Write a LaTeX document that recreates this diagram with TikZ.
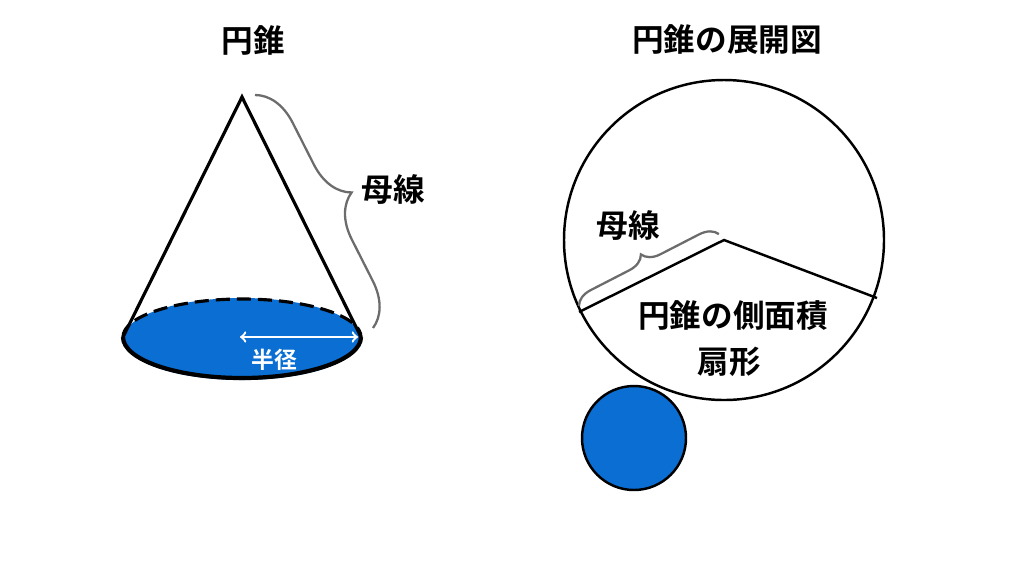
\documentclass[tikz,border=0pt]{standalone}
\usepackage{fontspec}
\setmainfont{Noto Sans CJK JP Bold}
\usetikzlibrary{decorations.pathreplacing}
\definecolor{baseblue}{RGB}{10,110,210}
\begin{document}
\begin{tikzpicture}[x=0.02cm,y=-0.02cm]
  % Styles
  \tikzset{
    title/.style={font=\fontsize{18}{21}\selectfont},
    lbl/.style={font=\fontsize{18}{21}\selectfont},
    edge/.style={line width=1.8pt},
    gbrace/.style={draw=gray!85!black,line width=1.3pt,decorate,decoration={brace,amplitude=14pt}}
  }
  \useasboundingbox (0,0) rectangle (1024,576);
  % Titles
  \node[title] (t1) at (253,40) {円錐};
  \node[title] (t2) at (727,40) {円錐の展開図};
  % Cone
  \coordinate (apex) at (242,97);
  \coordinate (bl) at (123,337);
  \coordinate (br) at (361,337);
  \coordinate (ctr) at (242,339);
  \fill[baseblue] (ctr) ellipse [x radius=119, y radius=41];
  \draw[edge,dash pattern=on 8pt off 4pt] (bl) arc[start angle=180,end angle=360,x radius=119,y radius=38];
  \draw[line width=2.4pt] (bl) arc[start angle=180,end angle=0,x radius=119,y radius=41];
  \draw[edge] (bl) -- (apex) -- (br);
  \draw[white,line width=1.3pt,<->] (240,337) -- (358,337);
  \node[text=white,font=\fontsize{13}{15}\selectfont] (hk) at (274,360) {半径};
  % Slant brace
  \coordinate (b1) at (255,95);
  \coordinate (b2) at (373,328);
  \draw[gbrace,decoration={amplitude=24pt}] (b1) -- (b2);
  \node[lbl] (m1) at (393,190) {母線};
  % Net
  \node[draw,circle,line width=1.4pt,minimum size=320*0.02cm,inner sep=0] (fan) at (724,240) {};
  \coordinate (f1) at (579,312);
  \coordinate (f0) at (724,240);
  \coordinate (f2) at (877,298);
  \draw[line width=1.4pt] (f1) -- (f0) -- (f2);
  \draw[gbrace,decoration={amplitude=10pt}] (579,306) -- (719,234);
  \node[lbl] (m2) at (628,226) {母線};
  \node[lbl] (s1) at (733,316) {円錐の側面積};
  \node[lbl] (s2) at (729,362) {扇形};
  \node[draw,circle,line width=1.4pt,fill=baseblue,minimum size=104*0.02cm,inner sep=0] (bc) at (634,438) {};
\end{tikzpicture}
\end{document}
